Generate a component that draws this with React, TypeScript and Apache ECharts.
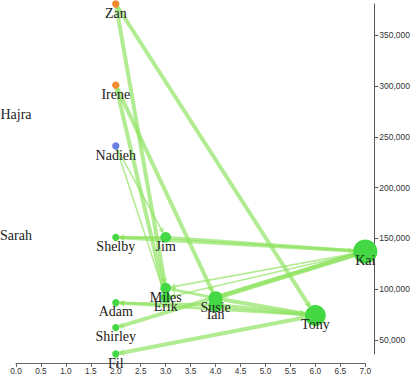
import React, { useEffect, useRef } from "react";
import * as echarts from "echarts";

// Nodes: x = number of connections, y = value
const nodeNames = ["Hajra", "Sarah", "Zan", "Irene", "Nadieh", "Shelby", "Adam", "Shirley", "Fil", "Jim", "Miles", "Erik", "Susie", "Ian", "Tony", "Kai"];
const nodeDegree = [0, 0, 2, 2, 2, 2, 2, 2, 2, 3, 3, 3, 4, 4, 6, 7];
const nodeValue = [281000, 162000, 381000, 301000, 241000, 151000, 86500, 62000, 36000, 151000, 101000, 91500, 91000, 84300, 74000, 137000];
const nodeGroup = ["green", "green", "orange", "orange", "blue", "green", "green", "green", "green", "green", "green", "green", "green", "green", "green", "green"];

// Edges
const edgeSource = ["Zan", "Zan", "Irene", "Irene", "Nadieh", "Nadieh", "Kai", "Jim", "Jim", "Kai", "Kai", "Kai", "Kai", "Susie", "Susie", "Ian", "Ian", "Tony", "Tony"];
const edgeTarget = ["Tony", "Miles", "Susie", "Erik", "Erik", "Jim", "Shelby", "Shelby", "Kai", "Miles", "Erik", "Susie", "Shirley", "Miles", "Tony", "Tony", "Adam", "Adam", "Fil"];
const edgeWeight = [3, 3, 3, 3, 1, 1, 2.5, 2, 2.5, 1, 1, 3.5, 3, 2, 3, 3, 2, 2, 3];

const groupColor: Record<string, string> = { orange: "#f5892e", blue: "#6b7fe3", green: "#44d944" };

export default function App() {
  const ref = useRef<HTMLDivElement>(null);
  useEffect(() => {
    const chart = echarts.init(ref.current!, null, { renderer: "svg" });
    const yMin = Math.min(...nodeValue);
    const yMax = Math.max(...nodeValue);
    const data = nodeNames.map((n, i) => ({
      name: n,
      value: [nodeDegree[i], nodeValue[i]],
      symbolSize: nodeDegree[i] === 0 ? 0 : 3.4 * nodeDegree[i] + 0.5,
      itemStyle: { color: groupColor[nodeGroup[i]] },
    }));
    const links = edgeSource.map((s, i) => ({
      source: s,
      target: edgeTarget[i],
      lineStyle: { width: edgeWeight[i] * 1.2 + 0.4 },
    }));
    chart.setOption({
      animation: false,
      grid: { left: 16, right: 47, top: 4, bottom: 21 },
      xAxis: {
        type: "value",
        min: 0,
        max: 7,
        interval: 0.5,
        offset: 9,
        splitLine: { show: false },
        axisLine: { onZero: false, lineStyle: { color: "#666" } },
        axisTick: { show: true, length: 4, lineStyle: { color: "#666" } },
        axisLabel: {
          formatter: (v: number) => v.toFixed(1),
          fontSize: 8.3,
          color: "#333",
          margin: 4,
          fontFamily: "Liberation Sans",
        },
      },
      yAxis: {
        type: "value",
        position: "right",
        min: yMin,
        max: yMax,
        splitNumber: 5,
        offset: 9,
        splitLine: { show: false },
        axisLine: { show: true, onZero: false, lineStyle: { color: "#555" } },
        axisTick: { show: true, length: 4, lineStyle: { color: "#555" } },
        axisLabel: {
          showMinLabel: false,
          showMaxLabel: false,
          formatter: (v: number) => v.toLocaleString("en-US"),
          fontSize: 8.5,
          color: "#333",
          margin: 5,
          fontFamily: "Liberation Sans",
        },
      },
      series: [
        {
          type: "graph",
          coordinateSystem: "cartesian2d",
          data,
          links,
          edgeSymbol: ["none", "arrow"],
          edgeSymbolSize: 5,
          lineStyle: { color: "#8ee35f", opacity: 0.68, curveness: 0 },
          label: {
            show: true,
            position: "inside",
            offset: [0, 9],
            formatter: "{b}",
            fontFamily: "Liberation Serif",
            fontSize: 14,
            color: "#222",
          },
          emphasis: { disabled: true },
        },
      ],
    });
    return () => chart.dispose();
  }, []);
  return <div ref={ref} style={{ position: "absolute", left: 0, top: 0, width: 413, height: 375 }} />;
}
